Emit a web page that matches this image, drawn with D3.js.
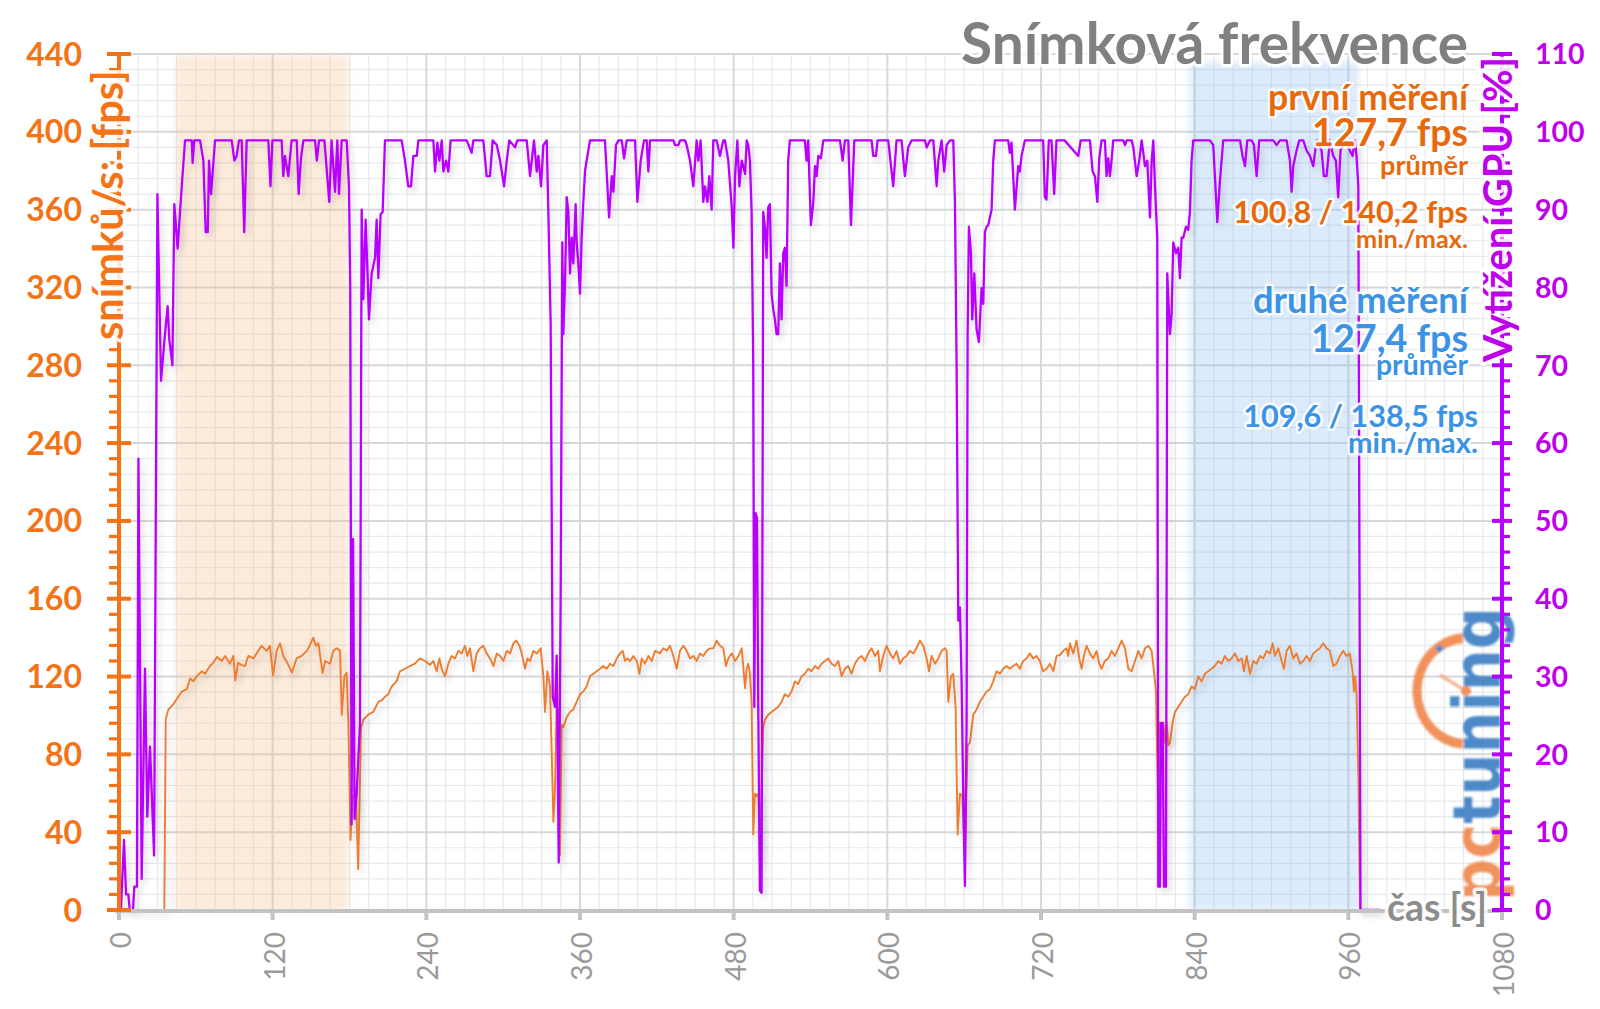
<!DOCTYPE html>
<html><head><meta charset="utf-8">
<script src="https://cdn.jsdelivr.net/npm/d3@7"></script>
<style>body{margin:0;background:#fff}svg{display:block}</style>
</head><body>
<svg id="chart" width="1600" height="1009"></svg>
<script>
// ---------- DATA ----------
const xTicks = [0,120,240,360,480,600,720,840,960,1080];
const fpsTicks = [0,40,80,120,160,200,240,280,320,360,400,440];
const gpuTicks = [0,10,20,30,40,50,60,70,80,90,100,110];
const titleText = 'Snímková frekvence';
const leftAxisTitle = 'snímků/s: [fps]';
const rightAxisTitle = 'Vytížení GPU [%]';
const xAxisTitle = 'čas [s]';
const legendFirst = ['první měření', '127,7 fps', 'průměr', '100,8 / 140,2 fps', 'min./max.'];
const legendSecond = ['druhé měření', '127,4 fps', 'průměr', '109,6 / 138,5 fps', 'min./max.'];
const bandFirst = [44.5, 179];
const bandSecond = [836, 968];

// [time s, fps]
const fpsSeries = [[0,0],[35.4,0],[36.5,98],[38.5,103],[42.4,105.7],[46.3,109.6],[49,112.3],[52.9,113.5],[55.6,119],[58,117.5],[60.7,120.1],[64.6,122.7],[67.2,121.4],[71.1,125.4],[73.5,127],[76.5,130],[80.2,128],[82.8,130.6],[86.7,126.6],[89.3,130.6],[90.8,118],[93,127],[95.5,126],[98.4,125.4],[101,130.6],[104.9,129.3],[107.5,131.9],[111.4,135.8],[115.3,133.2],[117.9,135.8],[120.3,120.5],[123.1,133.2],[125.7,137.1],[128.3,130.6],[131.5,127],[135,122],[138.7,129.3],[142.7,130.6],[146.6,133.2],[149,136],[151.6,140],[153.8,135.8],[155.7,137.1],[159,121.8],[161,128],[164.8,126.6],[167.4,133.2],[170,134.5],[172.6,133.2],[174,100.4],[176,120.1],[177.8,122],[179.1,96.5],[180.8,36],[182.5,58.5],[185,58.5],[186.8,21],[189,93.5],[190.8,97.8],[194.7,100.4],[198.6,101.8],[202.5,107],[205.1,107.7],[207.7,109.6],[210.3,110.9],[212.9,114.9],[216.8,117.5],[219.4,122.7],[223.3,124],[227.2,125.4],[231.1,126.6],[235,129.3],[238.9,128],[242.9,126],[245.5,128],[248.1,122.7],[250.2,129.3],[252,124],[254.6,120.1],[257.2,126.6],[259.8,130.6],[262.4,129.3],[265,133.2],[267.6,131.9],[270.2,135.8],[272,130.6],[274.1,134.5],[276.7,122.7],[279.3,131.9],[281.9,134.5],[284.5,135.8],[287.1,131.9],[289.7,129.3],[292.4,125.4],[295,131.9],[297.6,130.6],[300.2,128],[302.8,133.2],[305.4,131.9],[308,137.1],[310.1,138.5],[312.7,135.8],[314.5,131.9],[317.1,124],[318.9,129.3],[321,128],[323.6,133.2],[326.2,131.9],[329.3,134.5],[331.4,120.1],[332.7,101.8],[334.5,122.7],[336.6,114.9],[337.9,80.8],[339.2,45.4],[340.5,62.4],[341.8,105.7],[343.1,101.8],[344.4,28.3],[345.7,95.2],[347,93.9],[349.6,99.1],[352.2,101.8],[354.8,103.1],[357.4,107],[360,110.9],[362.6,112.3],[365.2,114.9],[367.8,120.1],[370.4,121.4],[373,122.7],[375.6,124],[378.2,125.4],[380.8,124],[383.5,126.6],[386.1,125.4],[388.7,129.3],[391.3,131.9],[393.3,133.2],[395.2,128],[397,129.3],[399.1,128],[401.7,130.6],[404.3,128],[406.4,121.4],[408.2,129.3],[410.8,126.6],[413.4,130.6],[416,128],[418.6,133.2],[422.5,131.9],[425.1,134.5],[427.7,133.2],[430.3,135.8],[432.9,130.6],[435.5,124],[438.1,133.2],[440.7,135.8],[443.3,133.2],[445.9,129.3],[448.5,130.6],[451.1,128],[453.7,131.9],[456.3,130.6],[458.9,133.2],[461.5,134.5],[464.1,134.5],[466.7,138.5],[469.3,135.8],[471.9,134.5],[474,125.4],[475.8,129.3],[478.5,131.9],[481.1,128],[483.7,130.6],[486.3,134.5],[488.9,114],[490.1,124],[491.4,126.6],[492.7,121.4],[494,107],[495.3,38.8],[496.6,59.8],[497.9,58.5],[499.2,59.8],[500.5,25],[503.1,93.9],[504.4,97.8],[507,100.4],[509.6,101.8],[512.2,103.1],[514.8,104.4],[517.4,107],[520,110.9],[522.6,109.6],[525.2,112.3],[527.8,117.5],[530.4,116.2],[533,120.1],[535.6,121.4],[538.2,124],[540.8,122.7],[543.5,125.4],[546.1,124],[548.7,126.6],[551.3,128],[553.9,129.3],[556.5,126.6],[559.1,125.4],[561.7,128],[564.3,120.1],[566.9,124],[569.5,125.4],[572.1,121.4],[574.7,126.6],[577.3,129.3],[579.9,130.6],[582.5,128],[585.1,131.9],[587.7,134.5],[590.3,130.6],[592.9,133.2],[594.2,122.7],[596.8,130.6],[599.4,135.8],[602,131.9],[604.6,129.3],[607.2,133.2],[609.8,126.6],[612.4,129.3],[615,130.6],[617.6,133.2],[620.2,131.9],[622.8,134.5],[625.4,138.5],[628.1,135.8],[630.7,129.3],[632.5,122.7],[634.6,130.6],[637.2,126.6],[639.8,129.3],[642.4,133.2],[645,134.5],[646.3,133.2],[647.6,107],[649.7,120.1],[651.5,121.4],[653.3,104.4],[654.9,38.8],[656.7,59.8],[658.5,58.5],[660.6,28],[662.7,84.7],[664.5,86],[667.1,100.4],[669.7,103.1],[672.3,107],[674.9,109.6],[677.5,112.3],[680.1,113.5],[682.7,117.5],[685.3,122.7],[687.9,121.4],[690.5,124],[693.1,125.4],[695.7,124],[698.3,125.4],[700.9,126.6],[703.5,124],[706.1,128],[708.7,129.3],[711.3,131.9],[713.9,129.3],[716.5,130.6],[719.1,128],[721.7,122.7],[724.4,124],[727,126.6],[729.6,122.7],[732.2,130.6],[734.8,131],[737.4,133.2],[740,134.5],[741.3,130.6],[742.6,137.1],[745.2,131.9],[747.8,138.5],[749.9,129.3],[751.7,124],[753.5,130.6],[755.6,135.8],[758.2,131.9],[760.8,129.3],[763.4,133.2],[765.5,126.6],[767.3,124],[769.9,128],[772.5,129.3],[775.1,133.2],[777.7,130.6],[780.3,134.5],[783,138.5],[785.6,134.5],[788.2,124],[790.8,122.7],[793.4,128],[796,133.2],[798.6,129.3],[801.2,134.5],[803.8,135.8],[806.4,133.2],[808.2,122.7],[809.8,112.3],[810.8,75.5],[811.8,36.2],[812.9,96.5],[814.2,86],[815.5,96.5],[816.8,86],[818.1,96.5],[819.4,84.7],[820.7,86],[822.8,96.5],[824.6,101.8],[827.2,104.4],[829.8,107],[832.4,109.6],[835,110.9],[837.6,114.9],[840.2,113.5],[842.8,120.1],[845.4,117.5],[848,121.4],[850.6,122.7],[853.2,124],[855.8,125.4],[858.4,128],[861,126.6],[863.6,130.6],[866.2,128],[868.8,129.3],[871.4,131.9],[874.1,128],[876.7,129.3],[878.5,122.7],[880.6,130.6],[883.2,121.4],[885.8,128],[888.4,126.6],[891,130.6],[893.6,129.3],[896.2,133.2],[898.8,131.9],[900.9,137.1],[902.7,130.6],[905.3,134.5],[907.9,128],[909.7,124],[911.8,133.2],[914.4,135.8],[917,129.3],[919.6,131.9],[922.2,126.6],[924.8,128],[927.4,130.6],[930,128],[932.6,131.9],[935.2,133.2],[937.8,134.5],[940.4,137.1],[943,134.5],[945.6,133.2],[948.2,125.4],[950.8,126.6],[953.4,130.6],[956,133.2],[958.6,130.6],[961.2,131.9],[963.3,122.7],[964.4,112.3],[965.4,120.1],[966.4,110.9],[967.8,70.3],[969.1,0],[985,0]];

// [time s, GPU load %]
const gpuSeries = [[0,0],[1.5,0],[3.9,9],[5.5,2],[7.3,2],[8.4,0],[10.9,0],[12,3],[14,3],[15.2,58],[17.7,4],[20.3,31],[22.1,12],[24.2,21],[27.4,7],[30,92],[32.8,68],[35.9,74],[38,77.6],[39.3,73.3],[41.7,70],[43.2,90.7],[45.8,85],[49,93],[51.6,98.9],[56.8,98.9],[57.5,96],[58.8,98.9],[63.3,98.9],[65.9,96.3],[67.7,87.1],[69.3,87.1],[70.3,96.3],[71.9,92],[75,98.9],[88,98.9],[90.1,96.3],[91.9,96.9],[93.7,98.9],[95.8,98.9],[97.8,87.1],[99.7,98.9],[116.6,98.9],[118.3,93],[119.8,98.9],[127,98.9],[128.3,94.3],[129.6,96.9],[132.2,94.3],[134.8,98.9],[138.8,98.9],[140.3,92],[142.1,96.6],[144,98.9],[153.1,98.9],[154.5,96.3],[156.2,98.9],[160.4,98.9],[164.2,91],[166,98.9],[168.7,92.3],[170.5,98.9],[171.8,92],[173.9,98.9],[177.8,98.9],[179.6,93],[180.6,79.9],[181.6,11],[182.8,47.7],[184,11.7],[185.6,14.9],[188.2,24],[189.5,90],[190.8,78.5],[192.6,88.7],[194.2,81.2],[195.2,75.9],[197.3,81.8],[199.9,83.8],[201.2,88.7],[202.5,81.2],[204.3,89.4],[205.9,89.7],[207.7,98.9],[220.7,98.9],[223.3,96.3],[225.9,93],[228,93],[229.9,96.9],[232.5,96.9],[233.8,98.9],[245.5,98.9],[246.8,94.9],[248.6,98.6],[250.2,96.3],[252,98.9],[253.3,94.9],[255.4,96.3],[257.2,94.9],[259,98.9],[271.5,98.9],[275.4,97.3],[276.7,98.9],[284.5,98.9],[287.1,94.3],[289.7,94.3],[291.8,98.9],[295,98.3],[297.6,96.3],[300.7,93],[302.8,96.3],[304.8,98.9],[309.3,98],[311.1,98.9],[318.4,98.9],[321,94.3],[322.3,96.3],[324.1,98.9],[326.2,94.9],[327.5,96.9],[329.6,93],[331.4,98.3],[334,98.9],[335.3,89.7],[337.1,75.3],[338.7,27.4],[340.5,26.1],[341.8,32.7],[343.4,6.1],[344.9,40.5],[346.2,85.8],[347,74],[348.3,80.5],[349.6,91.6],[350.9,89.7],[352.2,81.8],[353.5,86.4],[354.8,83.1],[356.6,90.7],[357.4,85.8],[358.7,83.1],[360,79.2],[361.3,86.4],[362.6,91],[363.9,94.9],[365.2,96.3],[367.8,98.9],[379.5,98.9],[380.8,94.9],[382.7,89],[384.8,94.3],[386.1,92.3],[388.1,98.3],[390,98.9],[392.6,98.9],[394.4,96.6],[396.5,98.9],[403,98.9],[404.8,91],[407.4,96.3],[410,98.9],[412.1,98.9],[413.4,94.9],[414.7,98.9],[432.9,98.9],[434.2,98.3],[436.8,98.3],[438.1,98.9],[442,98.9],[443.3,98.3],[445.9,96.3],[448.5,93],[451.1,98.9],[452.4,96.3],[454.2,98.9],[456.3,91],[457.6,93],[459.5,91],[461,94.3],[462.8,90],[464.1,98.9],[466.7,98.9],[469.3,96.9],[471.9,98.9],[473.2,98.9],[475.8,96.3],[478.5,90.3],[479.8,85.1],[481.1,94.3],[482.9,98.9],[484.4,93],[486.3,96.3],[488.9,94.6],[490.2,98.9],[491.4,98.3],[492.7,96.3],[494,89.7],[495.3,70],[496.1,26.1],[497.1,51],[498.2,50.4],[499.2,26.1],[500.5,2.5],[501.8,2.2],[503.1,89.7],[504.4,87.8],[505.7,83.8],[507,90.3],[508.3,90.7],[509.6,79.2],[510.9,77.2],[512.2,75.9],[513.5,74],[514.8,74],[516.1,83.1],[517.4,75.9],[518.7,84.4],[520,85.1],[521.3,80.2],[522.6,96.3],[523.9,98.9],[535.6,98.9],[536.9,96.3],[538.2,98.9],[540.3,88],[542.2,91],[543.5,95.6],[544.8,94.3],[546.1,96.9],[548.1,96.6],[550,98.9],[563,98.9],[565.1,96.3],[566.9,98.9],[569.5,98.9],[571.6,88],[574.2,98.9],[587.7,98.9],[589,96.9],[591.1,96.9],[592.4,98.9],[600.7,98.9],[604.6,93],[607.2,98.9],[611.1,98.9],[613.7,94.3],[616.3,98],[618.9,98.9],[629.4,98.9],[630.7,98],[633.3,98.9],[635.9,98.9],[638.5,93],[639.8,96.3],[642.4,98.9],[644.4,94.9],[646.3,98.3],[648.9,98.9],[651.5,98.9],[652.8,91],[654.1,70],[655.4,37.2],[656.7,38.9],[658,29.4],[659.3,14.3],[660.6,3.1],[661.9,24.1],[662.7,74],[663.7,87.8],[665.3,84.4],[666.3,75.9],[667.9,81.8],[669.7,74.6],[671.5,73],[673.6,79.9],[674.9,77.9],[676.2,87.1],[677.5,87.8],[678.8,88],[681.4,90],[682.7,96.3],[684,98.9],[694.4,98.9],[695.7,97.3],[697,98.6],[699.6,90],[702.2,95.6],[703.5,94.9],[704.8,96.9],[707.4,98.9],[721.7,98.9],[723,91.6],[724.3,91.3],[726.1,98.9],[728.2,98.9],[730.3,92],[732.1,98.9],[738.4,98.9],[749.1,96.9],[751,98.9],[758.2,98.9],[760.3,94.9],[762.1,94.3],[764,91],[765.5,96.6],[767.3,98.9],[769.9,98.9],[771.2,94.3],[772.5,96.6],[773.8,94.3],[775.1,96.3],[776.4,98.9],[784.3,98.9],[785.6,98.3],[786.9,98.9],[790.8,98.9],[792.1,98],[794.7,94.3],[796.7,96.3],[798.6,98.9],[801.2,95.6],[803,96.3],[805.1,89],[806.4,96.3],[807.7,98.9],[809,93],[810.8,86.4],[811.6,3],[812.9,3],[813.7,24],[815,24],[816,3],[817.6,3],[818.6,81.8],[820.7,74],[822,76.6],[823.3,85.8],[825.4,84.4],[827.2,85.1],[828.5,81.2],[829.8,86.4],[831.1,86.4],[833.2,87.8],[835,87.4],[836.3,89.7],[837.6,96.3],[838.9,98.9],[851.9,98.9],[854.5,98.3],[855.8,94.3],[857.7,88.4],[859.7,93.6],[862.3,98.9],[875.4,98.9],[877.4,96.9],[879.3,95.6],[881.1,98.9],[884.5,98.9],[886.3,98.3],[888.4,94.3],[890.4,98.9],[901.4,98.9],[904,98.3],[906.6,98.9],[911.8,98.9],[914.4,96.3],[915.7,92.3],[917,95.6],[919.6,97.6],[921.7,98.9],[924.8,98.9],[927.4,97.6],[930,96.9],[932.6,95.6],[935.2,98.9],[939.1,97.6],[940.9,94.3],[943,94.3],[945.6,98.9],[948.2,96.9],[950.3,96.3],[952.1,91.6],[953.9,97.6],[956,98.3],[958.6,98.9],[961.2,97.6],[963.3,96.9],[965.1,98.9],[966.4,96.9],[967.8,93],[969.5,0],[985,0]];

// ---------- DRAW ----------
function draw() {
  const svg = d3.select('#chart');
  const W = 1600, H = 1009;
  const x = d3.scaleLinear().domain([0, 1080]).range([119, 1502]);
  const yL = d3.scaleLinear().domain([0, 440]).range([910, 54]);
  const yR = d3.scaleLinear().domain([0, 110]).range([910, 54]);
  const ORANGE = '#f47316', ORANGE_TXT = '#e8690c', BLUE_TXT = '#3b93e6';
  const PURPLE = '#b800ff', PURPLE_TXT = '#bf00ec', FPS_LINE = '#ed7d31';
  const FONT = "Lato, 'Open Sans', sans-serif";

  const defs = svg.append('defs');
  const blur = defs.append('filter').attr('id', 'bandBlur').attr('x', '-5%').attr('y', '-5%').attr('width', '110%').attr('height', '110%');
  blur.append('feGaussianBlur').attr('stdDeviation', 3);
  const sh = defs.append('filter').attr('id', 'shadow').attr('x', '-5%').attr('y', '-5%').attr('width', '110%').attr('height', '115%');
  sh.append('feDropShadow').attr('dx', 3).attr('dy', 4).attr('stdDeviation', 3).attr('flood-color', '#000').attr('flood-opacity', 0.16);
  const lb = defs.append('filter').attr('id', 'logoBlur');
  lb.append('feGaussianBlur').attr('stdDeviation', 0.8);

  svg.append('rect').attr('width', W).attr('height', H).attr('fill', '#fff');

  // grid
  const grid = svg.append('g');
  const [x0, x1] = x.range();
  const yTop = yL(440), yBot = yL(0);
  grid.selectAll('.vmin').data(d3.range(0, 1081, 15).filter(v => v % 120)).join('line')
    .attr('x1', d => x(d)).attr('x2', d => x(d)).attr('y1', yTop).attr('y2', yBot)
    .attr('stroke', '#e6e9ee').attr('stroke-width', 1.2);
  grid.selectAll('.hmin').data(d3.range(0, 441, 8).filter(v => v % 40)).join('line')
    .attr('x1', x0).attr('x2', x1).attr('y1', d => yL(d)).attr('y2', d => yL(d))
    .attr('stroke', '#e6e9ee').attr('stroke-width', 1.2);
  grid.selectAll('.vmaj').data(xTicks).join('line')
    .attr('x1', d => x(d)).attr('x2', d => x(d)).attr('y1', yTop).attr('y2', yBot)
    .attr('stroke', '#d6d8dc').attr('stroke-width', 2);
  grid.selectAll('.hmaj').data(fpsTicks).join('line')
    .attr('x1', x0).attr('x2', x1).attr('y1', d => yL(d)).attr('y2', d => yL(d))
    .attr('stroke', '#d6d8dc').attr('stroke-width', 2);

  // bands
  svg.append('rect').attr('x', x(bandFirst[0])).attr('width', x(bandFirst[1]) - x(bandFirst[0]))
    .attr('y', yTop + 2).attr('height', yBot - yTop - 2)
    .attr('fill', 'rgb(246,190,140)').attr('fill-opacity', 0.32).attr('filter', 'url(#bandBlur)');
  svg.append('rect').attr('x', x(bandSecond[0])).attr('width', x(bandSecond[1]) - x(bandSecond[0]))
    .attr('y', yTop + 8).attr('height', yBot - yTop - 8)
    .attr('fill', 'rgb(130,184,240)').attr('fill-opacity', 0.28).attr('filter', 'url(#bandBlur)');

  // logo
  const logo = svg.append('g').attr('opacity', 0.9).attr('filter', 'url(#logoBlur)');
  const cx = 1466, cy = 691, r = 49;
  const arc = d3.arc().innerRadius(r - 4.5).outerRadius(r + 4.5).startAngle(-Math.PI * 0.02).endAngle(-Math.PI * 0.98);
  logo.append('path').attr('d', arc()).attr('transform', `translate(${cx},${cy}) scale(1,1.08)`).attr('fill', '#f0874b');
  logo.append('path').attr('d', d3.arc().innerRadius(r - 4.5).outerRadius(r + 1).startAngle(-Math.PI * 0.21).endAngle(-Math.PI * 0.17)())
    .attr('transform', `translate(${cx},${cy}) scale(1,1.08)`).attr('fill', '#3b7ec3');
  logo.append('line').attr('x1', cx).attr('y1', cy).attr('x2', cx - 26).attr('y2', cy - 16)
    .attr('stroke', '#f2a07a').attr('stroke-width', 3);
  logo.append('circle').attr('cx', cx).attr('cy', cy).attr('r', 5).attr('fill', '#f0874b');
  const lt = logo.append('text').attr('transform', 'translate(1500,901) rotate(-90)')
    .attr('font-family', "'DejaVu Sans', sans-serif").attr('font-weight', 'bold').attr('font-size', 66)
    .attr('textLength', 294).attr('lengthAdjust', 'spacingAndGlyphs');
  lt.append('tspan').attr('fill', '#f0874b').text('pc');
  lt.append('tspan').attr('fill', '#3b7ec3').text('tuning');

  // series
  const lineFps = d3.line().x(d => x(d[0])).y(d => yL(d[1]));
  const lineGpu = d3.line().x(d => x(d[0])).y(d => yR(d[1]));
  svg.append('path').datum(fpsSeries).attr('d', lineFps).attr('fill', 'none')
    .attr('stroke', FPS_LINE).attr('stroke-width', 1.9).attr('stroke-linejoin', 'round').attr('filter', 'url(#shadow)');
  svg.append('path').datum(gpuSeries).attr('d', lineGpu).attr('fill', 'none')
    .attr('stroke', PURPLE).attr('stroke-width', 2.3).attr('stroke-linejoin', 'round').attr('filter', 'url(#shadow)');

  // bottom axis
  svg.append('line').attr('x1', x0 - 4).attr('x2', x1 + 2).attr('y1', yBot + 1).attr('y2', yBot + 1)
    .attr('stroke', '#c3c3c3').attr('stroke-width', 4);
  svg.selectAll('.xt').data(xTicks).join('rect')
    .attr('x', d => x(d) - 2).attr('y', yBot + 2).attr('width', 4).attr('height', 8).attr('fill', '#c3c3c3');
  svg.selectAll('.xl').data(xTicks).join('text')
    .attr('transform', d => `translate(${x(d) + 12},932) rotate(-90)`)
    .attr('text-anchor', 'end').attr('font-family', FONT).attr('font-size', 28)
    .attr('fill', '#9a9a9a').text(d => d);

  // left axis
  const la = svg.append('g');
  la.selectAll('.lmin').data(d3.range(0, 441, 8).filter(v => v % 40)).join('line')
    .attr('x1', 109).attr('x2', 119).attr('y1', d => yL(d)).attr('y2', d => yL(d))
    .attr('stroke', ORANGE).attr('stroke-width', 3.2);
  la.selectAll('.lmaj').data(fpsTicks).join('line')
    .attr('x1', 107).attr('x2', 131).attr('y1', d => yL(d)).attr('y2', d => yL(d))
    .attr('stroke', ORANGE).attr('stroke-width', 4);
  la.append('line').attr('x1', 119).attr('x2', 119).attr('y1', yTop - 1).attr('y2', yBot + 1)
    .attr('stroke', ORANGE).attr('stroke-width', 4);
  la.selectAll('.ll').data(fpsTicks).join('text')
    .attr('x', 82).attr('y', d => yL(d)).attr('dy', '0.36em').attr('text-anchor', 'end')
    .attr('font-family', FONT).attr('font-weight', 'bold').attr('font-size', 32).attr('fill', ORANGE).text(d => d);

  // right axis
  const ra = svg.append('g');
  ra.selectAll('.rmin').data(d3.range(0, 111, 2).filter(v => v % 10)).join('line')
    .attr('x1', 1502).attr('x2', 1510).attr('y1', d => yR(d)).attr('y2', d => yR(d))
    .attr('stroke', PURPLE).attr('stroke-width', 3.2);
  ra.selectAll('.rmaj').data(gpuTicks).join('line')
    .attr('x1', 1492).attr('x2', 1512).attr('y1', d => yR(d)).attr('y2', d => yR(d))
    .attr('stroke', PURPLE).attr('stroke-width', 4);
  ra.append('line').attr('x1', 1502).attr('x2', 1502).attr('y1', yTop - 1).attr('y2', yBot + 1)
    .attr('stroke', PURPLE).attr('stroke-width', 4);
  ra.selectAll('.rl').data(gpuTicks).join('text')
    .attr('x', 1535).attr('y', d => yR(d)).attr('dy', '0.36em').attr('text-anchor', 'start')
    .attr('font-family', FONT).attr('font-weight', 'bold').attr('font-size', 28.5).attr('fill', PURPLE_TXT).text(d => d);

  // helper: fit text to a measured width
  function fit(sel, target) {
    const len = sel.node().getComputedTextLength();
    const fs = parseFloat(sel.attr('font-size'));
    sel.attr('font-size', (fs * target / len).toFixed(2));
    return sel;
  }
  function halo(sel, w) {
    return sel.attr('stroke', '#fff').attr('stroke-width', w).attr('stroke-linejoin', 'round')
      .attr('paint-order', 'stroke').attr('stroke-opacity', 0.9);
  }

  // axis titles
  const lt1 = svg.append('text').attr('transform', 'translate(123,340) rotate(-90)')
    .attr('font-family', FONT).attr('font-weight', 'bold').attr('font-size', 34).attr('fill', ORANGE).text(leftAxisTitle);
  halo(fit(lt1, 270), 7);
  const rt1 = svg.append('text').attr('transform', 'translate(1512,362) rotate(-90)')
    .attr('font-family', FONT).attr('font-weight', 'bold').attr('font-size', 34).attr('fill', PURPLE_TXT).text(rightAxisTitle);
  halo(fit(rt1, 305), 7);
  const xt = svg.append('text').attr('x', 1387).attr('y', 921)
    .attr('font-family', FONT).attr('font-weight', 'bold').attr('font-size', 36).attr('fill', '#8c8c8c').text(xAxisTitle);
  halo(fit(xt, 100), 7);

  // title
  const tt = svg.append('text').attr('x', 1468).attr('y', 64).attr('text-anchor', 'end')
    .attr('font-family', FONT).attr('font-weight', 'bold').attr('font-size', 54).attr('fill', '#808080').text(titleText);
  halo(fit(tt, 507), 6);

  // legend
  const base1 = [110, 146, 175, 223, 248], wid1 = [200, 156, 88, 235, 112], size1 = [28, 40, 24, 30, 24];
  legendFirst.forEach((s, i) => {
    const t = svg.append('text').attr('x', 1468).attr('y', base1[i]).attr('text-anchor', 'end')
      .attr('font-family', FONT).attr('font-weight', 'bold').attr('font-size', size1[i]).attr('fill', ORANGE_TXT).text(s);
    halo(fit(t, wid1[i]), 5);
  });
  const base2 = [313, 352, 375, 427, 453], wid2 = [215, 157, 92, 235, 130], right2 = [1468, 1468, 1468, 1478, 1478];
  legendSecond.forEach((s, i) => {
    const t = svg.append('text').attr('x', right2[i]).attr('y', base2[i]).attr('text-anchor', 'end')
      .attr('font-family', FONT).attr('font-weight', 'bold').attr('font-size', size1[i]).attr('fill', BLUE_TXT).text(s);
    halo(fit(t, wid2[i]), 5);
  });
}
if (document.fonts && document.fonts.ready) document.fonts.ready.then(draw); else draw();
</script>
</body></html>
